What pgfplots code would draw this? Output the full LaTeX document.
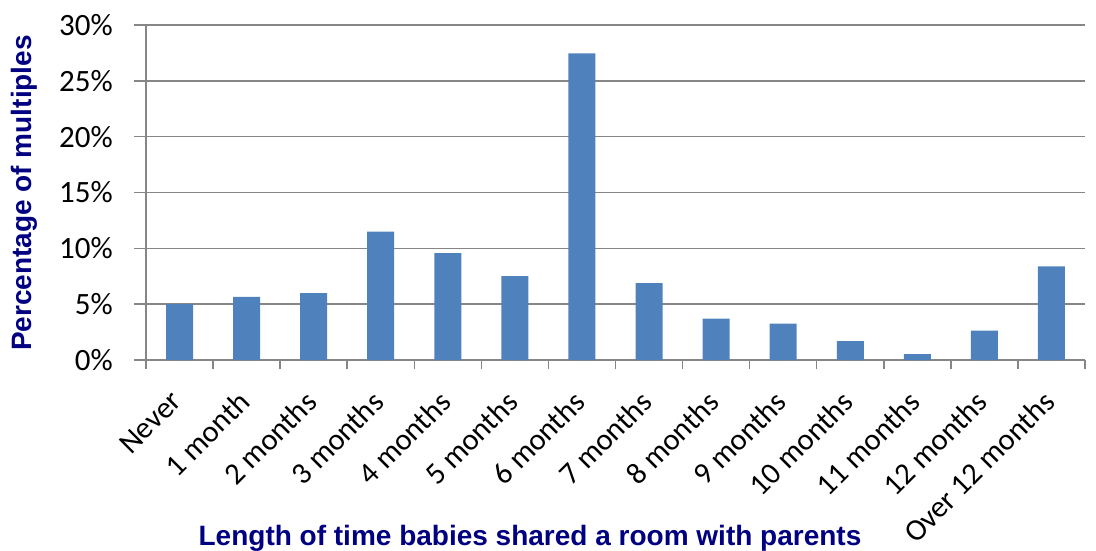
\documentclass[border=0pt]{standalone}
\usepackage{fontspec}
\setmainfont{Carlito}
\newfontfamily\arialfont{Liberation Sans}
\usepackage{pgfplots}
\pgfplotsset{compat=1.18}
\definecolor{barblue}{HTML}{4F81BD}
\definecolor{gridgray}{HTML}{868686}
\definecolor{titlenavy}{HTML}{000080}
\begin{document}
\begin{tikzpicture}[x=1pt,y=1pt]
\begin{axis}[
  at={(0pt,0pt)}, anchor=south west,
  scale only axis, width=939pt, height=335pt,
  xmin=-0.5, xmax=13.5, ymin=0, ymax=30,
  axis x line*=bottom, axis y line*=left,
  axis line style={gridgray, line width=1.5pt, -},
  ymajorgrids, grid style={gridgray, line width=1.5pt},
  xtick={0,...,13},
  xticklabels={Never,1 month,2 months,3 months,4 months,5 months,6 months,7 months,8 months,9 months,10 months,11 months,12 months,Over 12 months},
  minor xtick={-0.5,0.5,...,13.5},
  major x tick style={draw=none},
  minor x tick style={gridgray, line width=1.5pt},
  minor tick length=9pt,
  ytick={0,5,...,30},
  yticklabels={0\%,5\%,10\%,15\%,20\%,25\%,30\%},
  major y tick style={gridgray, line width=1.5pt},
  major tick length=12pt,
  tick align=outside,
  yticklabel style={font=\fontsize{31pt}{36pt}\selectfont, inner sep=0pt, xshift=-21pt},
  xticklabel style={font=\fontsize{30.5pt}{36pt}\selectfont, xshift=-10pt, yshift=-17pt, rotate=45, anchor=north east, inner sep=0pt},
  ybar, bar width=27pt,
]
\addplot[fill=barblue, draw=none] coordinates {
(0,5.0) (1,5.65) (2,6.0) (3,11.5) (4,9.58) (5,7.52) (6,27.45)
(7,6.88) (8,3.71) (9,3.26) (10,1.69) (11,0.53) (12,2.64) (13,8.39)};
\end{axis}
\node[anchor=base, text=titlenavy, font=\arialfont\bfseries\fontsize{28pt}{33pt}\selectfont] at (384pt,-185pt) {Length of time babies shared a room with parents};
\node[anchor=base, rotate=90, text=titlenavy, font=\arialfont\bfseries\fontsize{28pt}{33pt}\selectfont] at (-114pt,167pt) {Percentage of multiples};
\pgfresetboundingbox
\path[use as bounding box] (-146pt,-190pt) rectangle (950pt,360pt);
\end{tikzpicture}
\end{document}
